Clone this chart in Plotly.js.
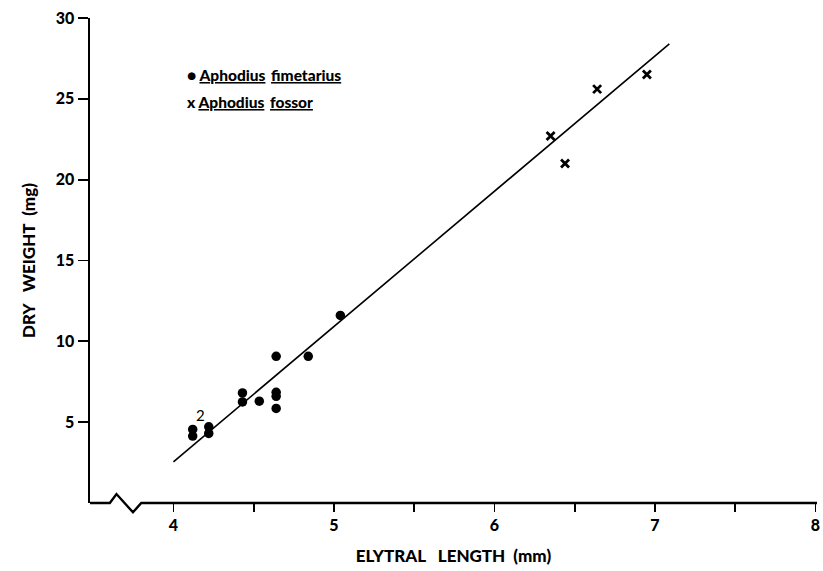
<!DOCTYPE html>
<html>
<head>
<meta charset="utf-8">
<script src="https://cdn.plot.ly/plotly-3.0.1.min.js"></script>
<style>html,body{margin:0;padding:0;background:#fff;}#chart{width:823px;height:571px;}</style>
</head>
<body>
<div id="chart"></div>
<script>
// Aphodius fimetarius (dots)
const fimetariusLength = [4.12, 4.12, 4.22, 4.22, 4.43, 4.43, 4.535, 4.64, 4.64, 4.64, 4.64, 4.84, 5.04];
const fimetariusWeight = [4.55, 4.14, 4.71, 4.30, 6.81, 6.25, 6.30, 6.85, 6.60, 5.85, 9.07, 9.07, 11.6];
// Aphodius fossor (crosses)
const fossorLength = [6.35, 6.44, 6.64, 6.95];
const fossorWeight = [22.7, 21.0, 25.6, 26.5];
// Regression line end points
const fitLength = [4.0, 7.09];
const fitWeight = [2.55, 28.4];
// Ticks
const xTickVals = [4, 4.5, 5, 5.5, 6, 6.5, 7, 7.5, 8];
const xTickText = ["4", "", "5", "", "6", "", "7", "", "8"];
const yTickVals = [5, 10, 15, 20, 25, 30];
const yTickText = ["5", "10", "15", "20", "25", "30"];
const seriesNames = ["Aphodius fimetarius", "Aphodius fossor"];
const countLabel = {x: 4.17, y: 5.45, text: "2"};

const fontFam = "Lato, 'Open Sans', sans-serif";

function underlineWords(s) {
  return s.split(" ").map(w => "<u>" + w + "</u>").join("\u00a0\u2009");
}

const traces = [
  {x: fitLength, y: fitWeight, mode: "lines", line: {color: "#000", width: 1.6}, hoverinfo: "skip", showlegend: false},
  {x: fimetariusLength, y: fimetariusWeight, mode: "markers", name: seriesNames[0],
   marker: {symbol: "circle", size: 9.5, color: "#000"}, showlegend: false},
  {x: fossorLength, y: fossorWeight, mode: "markers", name: seriesNames[1],
   marker: {symbol: "x-thin-open", size: 8, color: "#000", line: {color: "#000", width: 2.8}}, showlegend: false}
];

const layout = {
  width: 823, height: 571,
  margin: {l: 90, r: 6, t: 18, b: 68},
  paper_bgcolor: "#fff", plot_bgcolor: "#fff",
  showlegend: false,
  xaxis: {
    range: [3.48, 8.01], showgrid: false, zeroline: false, showline: false,
    tickmode: "array", tickvals: xTickVals, ticktext: xTickText,
    ticks: "outside", ticklen: 8, tickwidth: 1.8, tickcolor: "#000",
    tickfont: {family: fontFam, size: 16, color: "#000", weight: 900},
    title: {text: "ELYTRAL\u00a0\u00a0\u00a0LENGTH\u00a0\u00a0(mm)", standoff: 16,
            font: {family: fontFam, size: 17, color: "#000", weight: 900}}
  },
  yaxis: {
    range: [0, 30], showgrid: false, zeroline: false, showline: true, linewidth: 2.4, linecolor: "#000",
    tickmode: "array", tickvals: yTickVals, ticktext: yTickText,
    ticks: "outside", ticklen: 10, tickwidth: 1.8, tickcolor: "#000",
    tickfont: {family: fontFam, size: 16, color: "#000", weight: 900},
    title: {text: "DRY\u00a0\u00a0\u00a0WEIGHT\u00a0\u00a0(mg)", standoff: 16,
            font: {family: fontFam, size: 17, color: "#000", weight: 900}}
  },
  shapes: [
    {type: "path", xref: "paper", yref: "paper",
     path: "M0,0 L0.0273,0 L0.0364,0.0185 L0.0591,-0.0192 L0.0705,0 L1,0",
     line: {color: "#000", width: 2.4}}
  ],
  annotations: [
    {xref: "paper", yref: "paper", x: 0.131, y: 0.882, xanchor: "left", yanchor: "middle", showarrow: false,
     text: "●\u00a0" + underlineWords(seriesNames[0]),
     font: {family: fontFam, size: 15.5, color: "#000", weight: 900}},
    {xref: "paper", yref: "paper", x: 0.131, y: 0.827, xanchor: "left", yanchor: "middle", showarrow: false,
     text: "x\u00a0" + underlineWords(seriesNames[1]),
     font: {family: fontFam, size: 15.5, color: "#000", weight: 900}},
    {xref: "x", yref: "y", x: countLabel.x, y: countLabel.y, showarrow: false, text: countLabel.text,
     font: {family: fontFam, size: 15, color: "#000"}}
  ]
};

Plotly.newPlot("chart", traces, layout, {displayModeBar: false, staticPlot: true});
</script>
</body>
</html>
